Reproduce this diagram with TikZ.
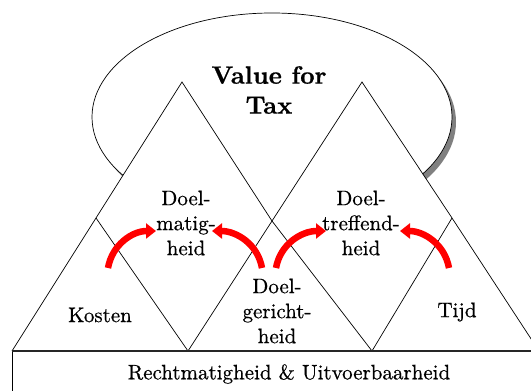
\documentclass[tikz,border=0pt]{standalone}
\usepackage{fontspec}
\setmainfont{lmroman10-regular}[Extension=.otf, BoldFont=lmroman10-bold, FakeBold=0.6]
\usetikzlibrary{arrows.meta}
\definecolor{shadowgray}{RGB}{128,128,128}
\begin{document}
\begin{tikzpicture}[x=1pt,y=1pt,
  edge/.style={draw=black, line width=0.7pt, line join=miter},
  lbl/.style={font=\fontsize{21}{25}\selectfont, align=center, inner sep=0pt},
  title/.style={font=\fontsize{25}{30}\selectfont\bfseries, align=center, inner sep=0pt},
  flow/.style={draw=red, line width=6.5pt, -{Triangle[length=10pt,width=15pt]}},
]
\useasboundingbox (0,0) rectangle (531,391);
\clip (0,0) rectangle (531,391);
\fill[white] (0,0) rectangle (531,391);

% cloud ellipse with its drop shadow
\fill[shadowgray] (276,269) ellipse [x radius=180, y radius=104];
\filldraw[fill=white, draw=black, line width=0.7pt] (272,274) ellipse [x radius=180, y radius=104];

% corner points of the two pyramids
\coordinate (L0) at (12,40);
\coordinate (Lm) at (96,173);
\coordinate (LA) at (182,309);
\coordinate (X)  at (272,170);
\coordinate (RA) at (362,309);
\coordinate (Rm) at (452,173);
\coordinate (R0) at (539,40);
\coordinate (V1) at (188,40);
\coordinate (V2) at (372,40);

% pyramids
\fill[white] (L0) -- (LA) -- (X) -- (RA) -- (R0) -- cycle;
\draw[edge] (L0) -- (Lm) -- (LA) -- (X) -- (V2);
\draw[edge] (R0) -- (Rm) -- (RA) -- (X) -- (V1);
\draw[edge] (Lm) -- (V1);
\draw[edge] (Rm) -- (V2);

% foundation block
\draw[line width=0.7pt] (12,-20) -- (12,40) -- (560,40) -- (560,-20);
\draw[line width=1.6pt, black!85] (12,40) -- (560,40);

% texts
\node[title] (vft) at (269,301) {Value for\\Tax};
\node[lbl] (matig) at (186,168) {Doel-\\matig-\\heid};
\node[lbl] (treff) at (361,168) {Doel-\\treffend-\\heid};
\node[lbl] (gericht) at (277,80) {Doel-\\gericht-\\heid};
\node[lbl] (kosten) at (100,76) {Kosten};
\node[lbl] (tijd) at (457,79) {Tijd};
\node[lbl] (recht) at (289,17) {Rechtmatigheid \& Uitvoerbaarheid};

% red flow arrows
\coordinate (a1s) at (108,123); \coordinate (a1e) at (156,160);
\coordinate (a2s) at (262,123); \coordinate (a2e) at (212,160);
\coordinate (a3s) at (276,123); \coordinate (a3e) at (326,160);
\coordinate (a4s) at (449,123); \coordinate (a4e) at (400,160);
\draw[flow] (a1s) to[out=80, in=180] (a1e);
\draw[flow] (a2s) to[out=100, in=0] (a2e);
\draw[flow] (a3s) to[out=80, in=180] (a3e);
\draw[flow] (a4s) to[out=100, in=0] (a4e);
\end{tikzpicture}
\end{document}
